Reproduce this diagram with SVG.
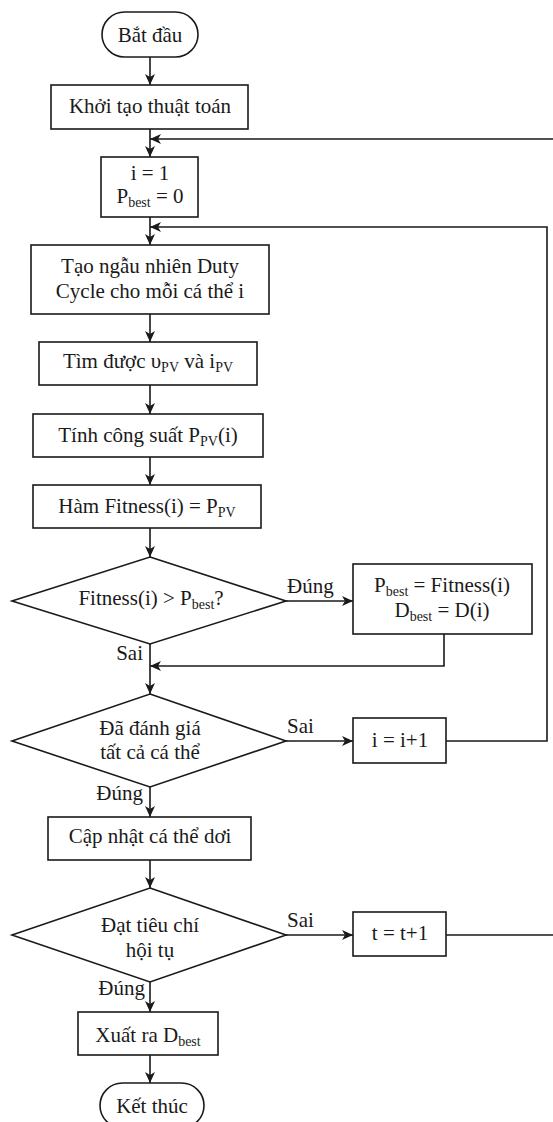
<svg xmlns="http://www.w3.org/2000/svg" width="553" height="1122" viewBox="0 0 553 1122">
  <style>
    .shape { fill: #ffffff; stroke: #1a1a1a; stroke-width: 1.6; }
    .edge { fill: none; stroke: #1a1a1a; stroke-width: 1.6; }
    text { font-family: "Liberation Serif", "Times New Roman", serif; font-size: 21px; fill: #1a1a1a; }
    .c { text-anchor: middle; }
    .e { text-anchor: end; }
    .sub { font-size: 14px; }
  </style>
  <defs>
    <marker id="arrow" markerWidth="12" markerHeight="12" refX="11" refY="5" orient="auto" markerUnits="userSpaceOnUse">
      <path d="M0,0 L11,5 L0,10 L3,5 z" fill="#1a1a1a"/>
    </marker>
  </defs>

  <rect width="553" height="1122" fill="#ffffff"/>

  <!-- connectors -->
  <g id="connectors">
    <path class="edge" d="M150,57 V85" marker-end="url(#arrow)"/>
    <path class="edge" d="M150,129 V157" marker-end="url(#arrow)"/>
    <path class="edge" d="M446,935 H556 V139 H150" marker-end="url(#arrow)"/>
    <path class="edge" d="M150,217 V245" marker-end="url(#arrow)"/>
    <path class="edge" d="M446,741 H547 V227 H150" marker-end="url(#arrow)"/>
    <path class="edge" d="M150,314 V342" marker-end="url(#arrow)"/>
    <path class="edge" d="M150,385 V414" marker-end="url(#arrow)"/>
    <path class="edge" d="M150,457 V485" marker-end="url(#arrow)"/>
    <path class="edge" d="M150,528 V557" marker-end="url(#arrow)"/>
    <path class="edge" d="M286,601 H353" marker-end="url(#arrow)"/>
    <path class="edge" d="M444,634 V666 H150" marker-end="url(#arrow)"/>
    <path class="edge" d="M150,644 V694" marker-end="url(#arrow)"/>
    <path class="edge" d="M286,741 H353" marker-end="url(#arrow)"/>
    <path class="edge" d="M150,787 V817" marker-end="url(#arrow)"/>
    <path class="edge" d="M150,860 V888" marker-end="url(#arrow)"/>
    <path class="edge" d="M286,935 H353" marker-end="url(#arrow)"/>
    <path class="edge" d="M150,982 V1012" marker-end="url(#arrow)"/>
    <path class="edge" d="M150,1055 V1083" marker-end="url(#arrow)"/>

    <text x="287" y="593">Đúng</text>
    <text class="e" x="143" y="660">Sai</text>
    <text x="287" y="733">Sai</text>
    <text class="e" x="143" y="800">Đúng</text>
    <text x="287" y="927">Sai</text>
    <text class="e" x="145" y="995">Đúng</text>
  </g>

  <!-- nodes -->
  <g id="start">
    <rect class="shape" x="102" y="12" width="96" height="45" rx="22.5"/>
    <text class="c" x="150" y="42">Bắt đầu</text>
  </g>

  <g id="init">
    <rect class="shape" x="51" y="85" width="197" height="44"/>
    <text class="c" x="150" y="113">Khởi tạo thuật toán</text>
  </g>

  <g id="reset">
    <rect class="shape" x="101" y="157" width="97" height="60"/>
    <text class="c" x="150" y="180">i = 1</text>
    <text class="c" x="150" y="203">P<tspan class="sub" dy="4">best</tspan><tspan dy="-4"> = 0</tspan></text>
  </g>

  <g id="random-duty">
    <rect class="shape" x="31" y="245" width="238" height="69"/>
    <text class="c" x="150" y="273">Tạo ngẫu nhiên Duty</text>
    <text class="c" x="150" y="298">Cycle cho mỗi cá thể i</text>
  </g>

  <g id="measure">
    <rect class="shape" x="39" y="342" width="218" height="43"/>
    <text class="c" x="148" y="368">Tìm được υ<tspan class="sub" dy="4">PV</tspan><tspan dy="-4"> và i</tspan><tspan class="sub" dy="4">PV</tspan></text>
  </g>

  <g id="power">
    <rect class="shape" x="33" y="414" width="230" height="43"/>
    <text class="c" x="148" y="442">Tính công suất P<tspan class="sub" dy="4">PV</tspan><tspan dy="-4">(i)</tspan></text>
  </g>

  <g id="fitness">
    <rect class="shape" x="33" y="485" width="228" height="43"/>
    <text class="c" x="147" y="513">Hàm Fitness(i) = P<tspan class="sub" dy="4">PV</tspan></text>
  </g>

  <g id="compare">
    <polygon class="shape" points="150,557 286,601 150,644 12,601"/>
    <text class="c" x="151" y="605">Fitness(i) &gt; P<tspan class="sub" dy="4">best</tspan><tspan dy="-4">?</tspan></text>
  </g>

  <g id="update-best">
    <rect class="shape" x="353" y="564" width="179" height="70"/>
    <text class="c" x="442" y="592">P<tspan class="sub" dy="4">best</tspan><tspan dy="-4"> = Fitness(i)</tspan></text>
    <text class="c" x="442" y="617">D<tspan class="sub" dy="4">best</tspan><tspan dy="-4"> = D(i)</tspan></text>
  </g>

  <g id="all-evaluated">
    <polygon class="shape" points="150,694 286,741 150,787 12,741"/>
    <text class="c" x="150" y="735">Đã đánh giá</text>
    <text class="c" x="150" y="759">tất cả cá thể</text>
  </g>

  <g id="next-i">
    <rect class="shape" x="353" y="718" width="93" height="45"/>
    <text class="c" x="400" y="747">i = i+1</text>
  </g>

  <g id="update-bats">
    <rect class="shape" x="48" y="817" width="203" height="43"/>
    <text class="c" x="150" y="843">Cập nhật cá thể dơi</text>
  </g>

  <g id="converged">
    <polygon class="shape" points="150,888 286,935 150,982 12,935"/>
    <text class="c" x="150" y="932">Đạt tiêu chí</text>
    <text class="c" x="150" y="957">hội tụ</text>
  </g>

  <g id="next-t">
    <rect class="shape" x="353" y="912" width="93" height="44"/>
    <text class="c" x="400" y="940">t = t+1</text>
  </g>

  <g id="output">
    <rect class="shape" x="78" y="1012" width="140" height="43"/>
    <text class="c" x="148" y="1042">Xuất ra D<tspan class="sub" dy="4">best</tspan></text>
  </g>

  <g id="end">
    <rect class="shape" x="100" y="1083" width="104" height="45" rx="22.5"/>
    <text class="c" x="152" y="1113">Kết thúc</text>
  </g>
</svg>
